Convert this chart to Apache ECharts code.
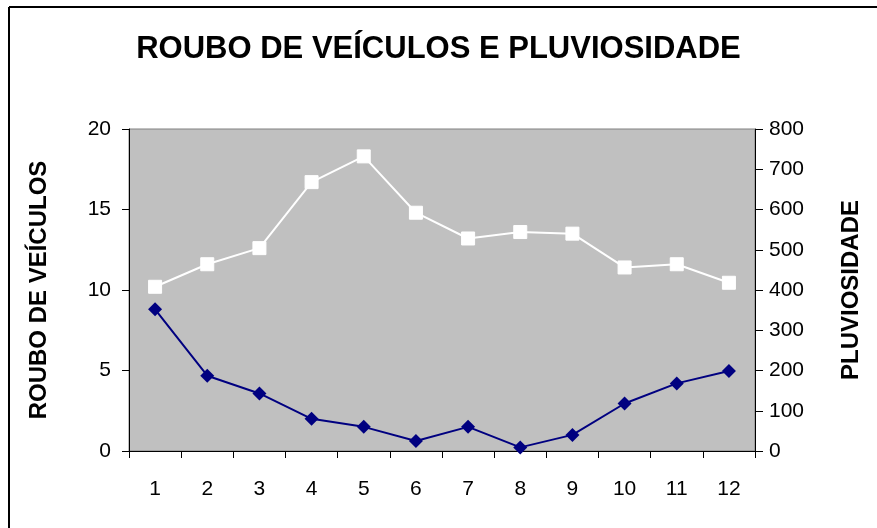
<!DOCTYPE html>
<html>
<head>
<meta charset="utf-8">
<script src="https://cdn.jsdelivr.net/npm/echarts@6/dist/echarts.min.js"></script>
<style>
  html, body { margin: 0; padding: 0; background: #fff; }
  #chart { width: 877px; height: 528px; }
</style>
</head>
<body>
<div id="chart"></div>
<script>
// months
const meses = ['1', '2', '3', '4', '5', '6', '7', '8', '9', '10', '11', '12'];
// white squares, left axis
const roubo = [10.2, 11.6, 12.6, 16.7, 18.3, 14.8, 13.2, 13.6, 13.5, 11.4, 11.6, 10.45];
// navy diamonds, right axis
const pluviosidade = [352, 187, 143, 80, 60, 25, 60, 9, 40, 118, 168, 199];

const chart = echarts.init(document.getElementById('chart'));
const font = 'Liberation Sans, Arial, sans-serif';

const option = {
  animation: false,
  backgroundColor: '#fff',
  title: {
    text: 'ROUBO DE VEÍCULOS E PLUVIOSIDADE',
    left: 'center',
    top: 29,
    textStyle: { fontFamily: font, fontSize: 31, fontWeight: 'bold', color: '#000' }
  },
  graphic: [
    { type: 'line', shape: { x1: 9, y1: 7, x2: 877, y2: 7 }, style: { stroke: '#000', lineWidth: 2 } },
    { type: 'line', shape: { x1: 9, y1: 7, x2: 9, y2: 528 }, style: { stroke: '#000', lineWidth: 2 } }
  ],
  grid: {
    left: 129, right: 122, top: 129, bottom: 77,
    show: true, backgroundColor: '#c0c0c0', borderColor: '#808080', borderWidth: 1
  },
  xAxis: {
    type: 'category',
    data: meses,
    boundaryGap: true,
    axisLine: { lineStyle: { color: '#000', width: 1 } },
    axisTick: { show: true, length: 7, lineStyle: { color: '#000' } },
    axisLabel: { color: '#000', fontFamily: font, fontSize: 21, margin: 28 }
  },
  yAxis: [
    {
      type: 'value', min: 0, max: 20, interval: 5,
      name: 'ROUBO DE VEÍCULOS', nameLocation: 'middle', nameGap: 78, nameRotate: 90,
      nameTextStyle: { fontFamily: font, fontSize: 24, fontWeight: 'bold', color: '#000' },
      axisLine: { show: true, lineStyle: { color: '#000' } },
      axisTick: { show: true, length: 7, lineStyle: { color: '#000' } },
      splitLine: { show: false },
      axisLabel: { color: '#000', fontFamily: font, fontSize: 21, margin: 18 }
    },
    {
      type: 'value', min: 0, max: 800, interval: 100, position: 'right',
      name: 'PLUVIOSIDADE', nameLocation: 'middle', nameGap: 84, nameRotate: 90,
      nameTextStyle: { fontFamily: font, fontSize: 24, fontWeight: 'bold', color: '#000' },
      axisLine: { show: true, lineStyle: { color: '#000' } },
      axisTick: { show: true, length: 8, lineStyle: { color: '#000' } },
      splitLine: { show: false },
      axisLabel: { color: '#000', fontFamily: font, fontSize: 21, margin: 14 }
    }
  ],
  series: [
    {
      name: 'ROUBO DE VEÍCULOS',
      type: 'line',
      yAxisIndex: 0,
      data: roubo,
      symbol: 'rect',
      symbolSize: 13,
      lineStyle: { color: '#fff', width: 2 },
      itemStyle: { color: '#fff', borderColor: '#fff' }
    },
    {
      name: 'PLUVIOSIDADE',
      type: 'line',
      yAxisIndex: 1,
      data: pluviosidade,
      symbol: 'diamond',
      symbolSize: 14,
      lineStyle: { color: '#000080', width: 2 },
      itemStyle: { color: '#000080' }
    }
  ]
};

chart.setOption(option);
</script>
</body>
</html>
